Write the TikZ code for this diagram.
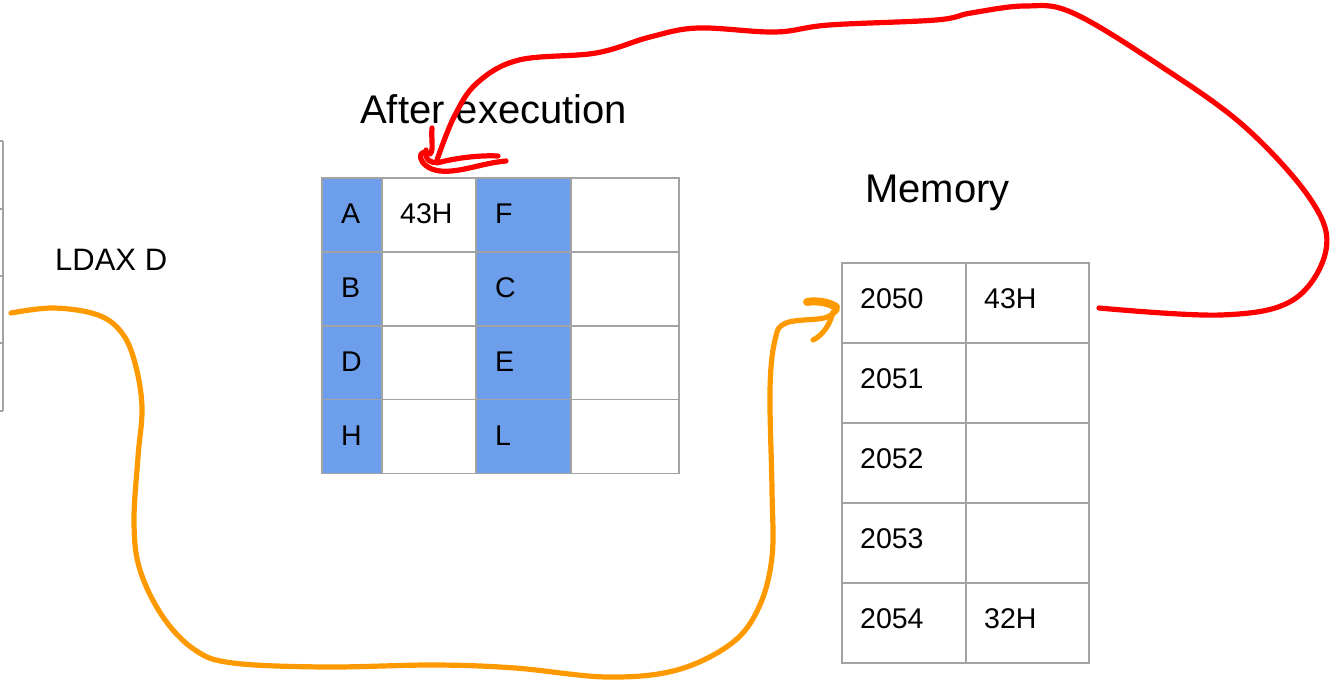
\documentclass[tikz,border=0pt]{standalone}
\usepackage{fontspec}
\setmainfont{Liberation Sans}
\usetikzlibrary{calc}
\definecolor{regblue}{HTML}{6D9EEB}
\definecolor{gridgray}{HTML}{A3A3A3}
\definecolor{penred}{HTML}{FF0000}
\definecolor{penorange}{HTML}{FF9900}
\begin{document}
\begin{tikzpicture}[x=1pt,y=-1pt,
  gridline/.style={draw=gridgray, line width=1.6pt},
  cellbox/.style={gridline, rectangle, inner sep=0pt, outer sep=0pt, fill=white},
  regkey/.style={cellbox, fill=regblue},
  celltext/.style={anchor=west, inner sep=0pt, font=\fontsize{28.5}{34}\selectfont},
  heading/.style={anchor=base west, inner sep=0pt, font=\fontsize{40}{46}\selectfont},
  redpen/.style={draw=penred, line width=5.2pt, line cap=round, line join=round},
  orangepen/.style={draw=penorange, line width=5.2pt, line cap=round, line join=round}
]
\useasboundingbox (0,0) rectangle (1331,682);

% register table (after execution)
\foreach \i/\y/\k/\v/\kk in {0/215/A/43H/F, 1/289/B//C, 2/363/D//E, 3/436.5/H//L}{
  \node[regkey, minimum width=60pt, minimum height=74pt] (key\i) at (352,\y) {};
  \node[cellbox, minimum width=94pt, minimum height=74pt] (val\i) at (429,\y) {};
  \node[regkey, minimum width=95pt, minimum height=74pt] (keyb\i) at (523.5,\y) {};
  \node[cellbox, minimum width=108pt, minimum height=74pt] (valb\i) at (625,\y) {};
  \node[celltext] (tkey\i) at ([xshift=19pt,yshift=1pt]key\i.west) {\k};
  \node[celltext] (tval\i) at ([xshift=18pt,yshift=1pt]val\i.west) {\v};
  \node[celltext] (tkeyb\i) at ([xshift=19pt,yshift=1pt]keyb\i.west) {\kk};
}

% memory table
\foreach \i/\y/\a/\d in {0/303/2050/43H, 1/383/2051/, 2/463/2052/, 3/543/2053/, 4/623/2054/32H}{
  \node[cellbox, minimum width=124pt, minimum height=80pt] (addr\i) at (904,\y) {};
  \node[cellbox, minimum width=123pt, minimum height=80pt] (data\i) at (1027.5,\y) {};
  \node[celltext] (taddr\i) at ([xshift=18pt,yshift=4pt]addr\i.west) {\a};
  \node[celltext] (tdata\i) at ([xshift=18pt,yshift=4pt]data\i.west) {\d};
}

% edge of the instruction table on the left
\draw[gridline] (3,141) -- (3,411);
\foreach \y in {141,209,276,343,411}{ \draw[gridline] (-5,\y) -- (3,\y); }

% labels
\node[heading] (after) at (360,124) {After execution};
\node[heading] (memlabel) at (865,202) {Memory};
\node[anchor=base west, inner sep=0pt, font=\fontsize{31}{36}\selectfont] (instr) at (55,270) {LDAX D};

% hand-drawn connectors
\coordinate (ostart) at (11,313);
\coordinate (oend) at ($(addr0.west)+(-5,7)$);
\coordinate (rstart) at ($(data0.east)+(10,5)$);
\coordinate (rend) at ($(val0.north west)+(55,-18)$);

\draw[orangepen] plot[smooth, tension=0.6] coordinates {
  (ostart) (54,308) (98,315) (122,333) (135,363) (142,407) (138,457) (134,523)
  (140,570) (163,617) (195,650) (233,663) (325,667) (434,665) (515,668) (607,677)
  (677,670) (732,643) (759,607) (772,557) (772,490) (770,390) (775,340) (786,323)
  (824,318) (oend)};
\draw[orangepen, line width=8pt] (807,302) .. controls (818,300) and (830,303) .. (836,307);
\draw[orangepen] (833,312) .. controls (830,325) and (822,336) .. (813,340);

\draw[redpen] plot[smooth, tension=0.6] coordinates {
  (rstart) (1221,315) (1293,300) (1326,250) (1311,200) (1245,127) (1162,67)
  (1073,13) (1025,6) (971,13) (936,20) (829,25) (775,32) (698,28) (650,37)
  (596,53) (519,60) (477,83) (454,117) (rend)};
\draw[redpen] (432,128) .. controls (431,140) and (434,150) .. (430,154)
  .. controls (416,146) and (416,168) .. (440,171)
  .. controls (460,173) and (482,163) .. (506,161);
\draw[redpen] (426,150) .. controls (424,160) and (432,164) .. (437,162);
\draw[redpen] (437,163) .. controls (455,158) and (480,155) .. (498,156);
\end{tikzpicture}
\end{document}
